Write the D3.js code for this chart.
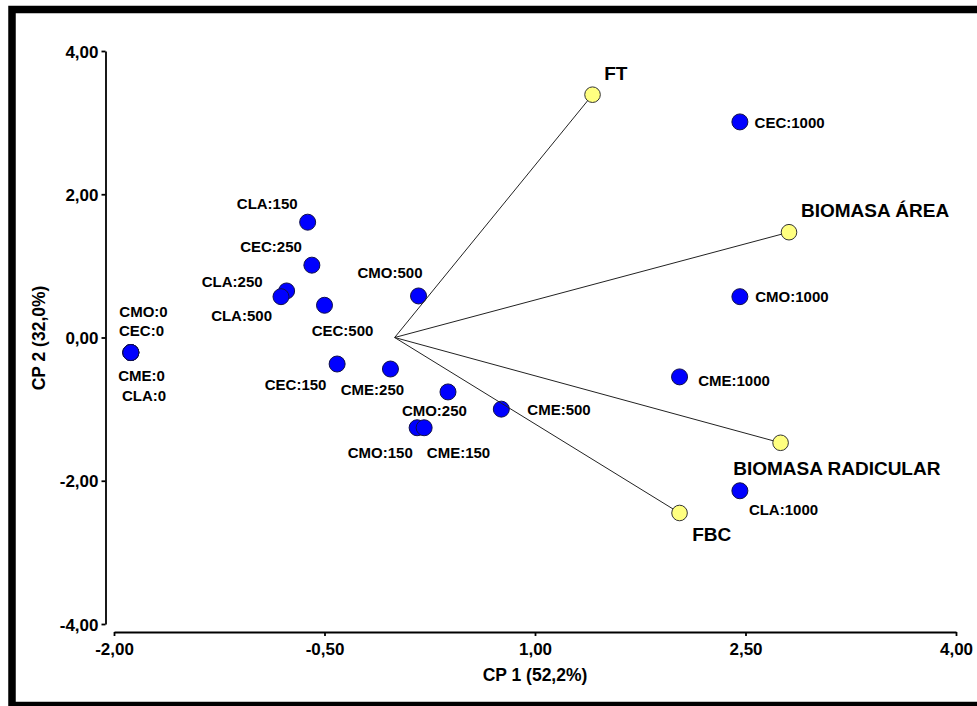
<!DOCTYPE html>
<html>
<head>
<meta charset="utf-8">
<script src="https://cdn.jsdelivr.net/npm/d3@7"></script>
<style>
  html, body { margin: 0; padding: 0; background: #fff; }
  svg { display: block; }
  text { font-family: "Liberation Sans", Arial, sans-serif; font-weight: bold; fill: #000; }
</style>
</head>
<body>
<svg id="chart" width="977" height="706"></svg>
<script>
// Observation scores (treatment:dose) on the first two principal components
const obsNames = ["CMO:0", "CEC:0", "CME:0", "CLA:0",
  "CLA:150", "CEC:250", "CLA:250", "CLA:500", "CEC:500", "CMO:500",
  "CEC:150", "CME:250", "CMO:250", "CME:500", "CMO:150", "CME:150",
  "CEC:1000", "CMO:1000", "CME:1000", "CLA:1000"];
const obsCP1 = [-1.88, -1.88, -1.88, -1.88,
  -0.62, -0.59, -0.77, -0.81, -0.50, 0.17,
  -0.41, -0.03, 0.38, 0.76, 0.16, 0.21,
  2.46, 2.46, 2.03, 2.46];
const obsCP2 = [-0.21, -0.21, -0.21, -0.21,
  1.61, 1.01, 0.65, 0.57, 0.45, 0.58,
  -0.37, -0.44, -0.76, -1.00, -1.26, -1.26,
  3.01, 0.57, -0.55, -2.14];

// Variable loadings (vectors drawn from the origin)
const varNames = ["FT", "BIOMASA ÁREA", "BIOMASA RADICULAR", "FBC"];
const varCP1 = [1.41, 2.81, 2.75, 2.03];
const varCP2 = [3.39, 1.47, -1.47, -2.45];

// Axis ticks
const xTicks = [-2.0, -0.5, 1.0, 2.5, 4.0];
const yTicks = [-4.0, -2.0, 0.0, 2.0, 4.0];
const xTitle = "CP 1 (52,2%)";
const yTitle = "CP 2 (32,0%)";

// Label placement around each marker: [text-anchor, dx, dy] in pixels
const obsLabelPlace = {
  "CMO:0": ["middle", 12.7, -35.7], "CEC:0": ["middle", 10.7, -16.7],
  "CME:0": ["middle", 10.7, 28.3], "CLA:0": ["middle", 13.2, 48.3],
  "CLA:150": ["end", -10, -13], "CEC:250": ["end", -10, -13],
  "CLA:250": ["end", -24, -4], "CLA:500": ["end", -9, 24.5],
  "CEC:500": ["middle", 18, 31], "CMO:500": ["middle", -28.5, -18],
  "CEC:150": ["end", -10.7, 25.6], "CME:250": ["middle", -18, 26],
  "CMO:250": ["middle", -13.6, 24.5], "CME:500": ["start", 26, 5.7],
  "CMO:150": ["end", -4.3, 30], "CME:150": ["start", 2.7, 30.5],
  "CEC:1000": ["start", 14.7, 5.7], "CMO:1000": ["start", 15.4, 5.6],
  "CME:1000": ["start", 18.6, 8.8], "CLA:1000": ["start", 9, 23.8]
};
const varLabelPlace = {
  "FT": ["start", 11.7, -15], "BIOMASA ÁREA": ["start", 12, -15],
  "BIOMASA RADICULAR": ["start", -47.4, 32.3], "FBC": ["start", 12.6, 28]
};

const obs = obsNames.map((n, i) => ({ name: n, x: obsCP1[i], y: obsCP2[i] }));
const vars = varNames.map((n, i) => ({ name: n, x: varCP1[i], y: varCP2[i] }));

const svg = d3.select("#chart");

const x = d3.scaleLinear().domain([-2, 4]).range([114, 956]);
const y = d3.scaleLinear().domain([-4, 4]).range([624, 51]);

const locale = d3.formatLocale({ decimal: ",", thousands: ".", grouping: [3], currency: ["", ""], minus: "-" });
const fmt = locale.format(".2f");

// Outer frame
svg.append("rect")
  .attr("x", 12).attr("y", 9.5)
  .attr("width", 990).attr("height", 696)
  .attr("fill", "none").attr("stroke", "#000").attr("stroke-width", 7.5);

// Axes (detached from the plotting area, as in the original software output)
const xAxis = svg.append("g")
  .attr("transform", "translate(0,632)")
  .call(d3.axisBottom(x).tickValues(xTicks).tickFormat(fmt).tickSize(4).tickSizeOuter(0).tickPadding(7));
const yAxis = svg.append("g")
  .attr("transform", "translate(105.5,0)")
  .call(d3.axisLeft(y).tickValues(yTicks).tickFormat(fmt).tickSize(4).tickSizeOuter(0).tickPadding(3));

[xAxis, yAxis].forEach(g => {
  g.selectAll("path.domain").attr("stroke", "#000").attr("stroke-width", 1.8);
  g.selectAll(".tick line").attr("stroke", "#000").attr("stroke-width", 1.8);
  g.selectAll(".tick text")
    .attr("font-family", "'Liberation Sans', Arial, sans-serif")
    .attr("font-weight", "bold").attr("font-size", 17).attr("fill", "#000");
});
yAxis.selectAll(".tick text").attr("dy", "0.36em");

svg.append("text")
  .attr("x", 535).attr("y", 681)
  .attr("text-anchor", "middle").attr("font-size", 17.5)
  .text(xTitle);
svg.append("text")
  .attr("transform", "translate(45,338) rotate(-90)")
  .attr("text-anchor", "middle").attr("font-size", 17.5)
  .text(yTitle);

// Observation markers
svg.append("g").selectAll("circle").data(obs).join("circle")
  .attr("cx", d => x(d.x)).attr("cy", d => y(d.y)).attr("r", 8)
  .attr("fill", "#0000ff").attr("stroke", "#10104a").attr("stroke-width", 1);

// Loading vectors
svg.append("g").selectAll("line").data(vars).join("line")
  .attr("x1", x(0)).attr("y1", y(0))
  .attr("x2", d => x(d.x)).attr("y2", d => y(d.y))
  .attr("stroke", "#222").attr("stroke-width", 1);

svg.append("g").selectAll("circle").data(vars).join("circle")
  .attr("cx", d => x(d.x)).attr("cy", d => y(d.y)).attr("r", 7.8)
  .attr("fill", "#ffff80").attr("stroke", "#333").attr("stroke-width", 1);

// Labels
svg.append("g").selectAll("text").data(obs).join("text")
  .attr("x", d => x(d.x) + obsLabelPlace[d.name][1])
  .attr("y", d => y(d.y) + obsLabelPlace[d.name][2])
  .attr("text-anchor", d => obsLabelPlace[d.name][0])
  .attr("font-size", 15)
  .text(d => d.name);

svg.append("g").selectAll("text").data(vars).join("text")
  .attr("x", d => x(d.x) + varLabelPlace[d.name][1])
  .attr("y", d => y(d.y) + varLabelPlace[d.name][2])
  .attr("text-anchor", d => varLabelPlace[d.name][0])
  .attr("font-size", 19)
  .text(d => d.name);
</script>
</body>
</html>
